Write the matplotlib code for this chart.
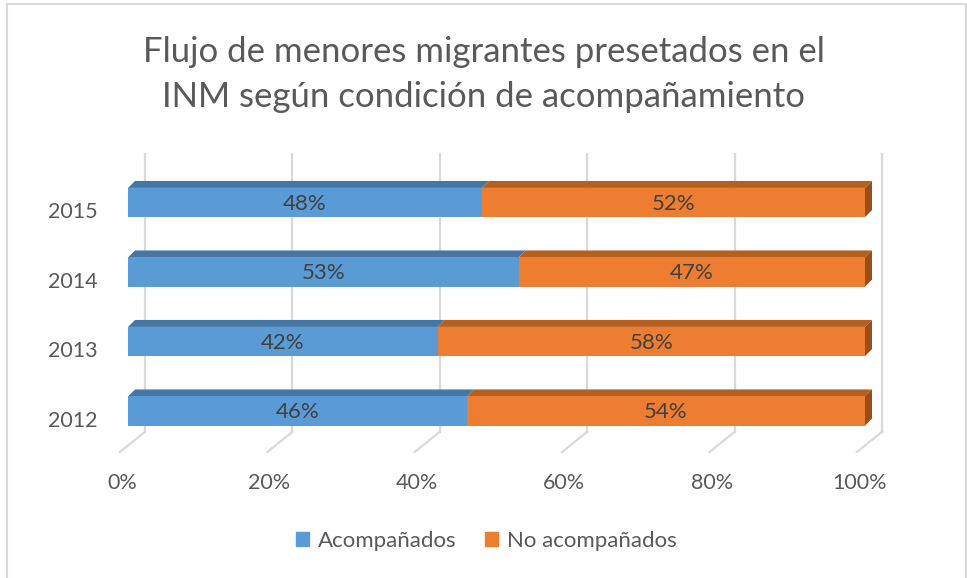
import numpy as np
import matplotlib.pyplot as plt
from matplotlib.patches import Polygon
from matplotlib.lines import Line2D

# ---- data ----
years = ['2012', '2013', '2014', '2015']
acompanados = [46, 42, 53, 48]
no_acompanados = [54, 58, 47, 52]
series_names = ['Acompañados', 'No acompañados']
ticks = [0, 20, 40, 60, 80, 100]

colors = ['#5B9BD5', '#ED7D31']
top_colors = ['#4676A4', '#B5601F']
side_colors = ['#9A4D16', '#9A4D16']
grid_color = '#D9D9D9'
text_color = '#595959'

plt.rcParams['font.family'] = ['Lato', 'DejaVu Sans']

W, H = 967, 578
fig = plt.figure(figsize=(W / 100, H / 100), dpi=100)

# axes placed so that the bar front faces span 0..100
y0_px, per_cat = 411, 69.5
ylo, yhi = -0.6, 3.75
bottom_px = y0_px - ylo * per_cat
top_px = y0_px - yhi * per_cat
ax = fig.add_axes([128 / W, 1 - bottom_px / H, 737 / W, (bottom_px - top_px) / H])
ax.set_xlim(0, 100)
ax.set_ylim(ylo, yhi)
ax.axis('off')

# 3D offsets (data units)
back_dx, floor_back_y, floor_front_dx, floor_front_y, wall_top = 2.3, -0.30, -1.1, -0.59, 3.70
depth_dx, depth_dy = 0.95, 0.10
bar_h = 0.42

# back wall gridlines + floor lines
for t in ticks:
    ax.plot([t + back_dx, t + back_dx], [floor_back_y, wall_top], color=grid_color,
            lw=1.6, clip_on=False, zorder=0)
    ax.plot([t + back_dx, t + floor_front_dx], [floor_back_y, floor_front_y], color=grid_color,
            lw=1.6, clip_on=False, zorder=0)
    ax.text(t + floor_front_dx + 0.3, -1.03, f'{t}%', ha='center', va='center',
            fontsize=15.5, color=text_color)

y = np.arange(len(years))
left = np.zeros(len(years))
for vals, c, tc, sc in zip([acompanados, no_acompanados], colors, top_colors, side_colors):
    vals = np.array(vals, dtype=float)
    ax.barh(y, vals, left=left, height=bar_h, color=c, zorder=3)
    for yi, l, v in zip(y, left, vals):
        top = yi + bar_h / 2
        ax.add_patch(Polygon([[l, top], [l + v, top], [l + v + depth_dx, top + depth_dy],
                              [l + depth_dx, top + depth_dy]], closed=True,
                             facecolor=tc, edgecolor='none', zorder=2, clip_on=False))
        ax.text(l + v / 2, yi - 0.02, f'{v:.0f}%', ha='center', va='center',
                fontsize=16, color='#404040', zorder=5)
    left = left + vals

# right side face of the stack
for yi, l in zip(y, left):
    ax.add_patch(Polygon([[l, yi - bar_h / 2], [l, yi + bar_h / 2],
                          [l + depth_dx, yi + bar_h / 2 + depth_dy],
                          [l + depth_dx, yi - bar_h / 2 + depth_dy]], closed=True,
                         facecolor=side_colors[1], edgecolor='none', zorder=2, clip_on=False))

# category labels
for yi, lab in zip(y, years):
    ax.text(-4.1, yi - 0.14, lab, ha='right', va='center', fontsize=15.5, color=text_color)

fig.text(0.5, 1 - 52 / H, 'Flujo de menores migrantes presetados en el',
         ha='center', va='center', fontsize=25, color=text_color)
fig.text(0.5, 1 - 97 / H, 'INM según condición de acompañamiento',
         ha='center', va='center', fontsize=25, color=text_color)

handles = [plt.Rectangle((0, 0), 1, 1, color=c) for c in colors]
fig.legend(handles, series_names, loc='center', bbox_to_anchor=(0.503, 1 - 541 / H),
           ncol=2, frameon=False, fontsize=16, handlelength=0.6, handleheight=0.6,
           handletextpad=0.4, columnspacing=1.25, labelcolor=text_color)

# chart border
fig.add_artist(Line2D([7 / W, 7 / W, 965.5 / W, 965.5 / W], [0, 1 - 4 / H, 1 - 4 / H, 0],
                      transform=fig.transFigure, color=grid_color, lw=1.5))

fig.savefig('out.png', dpi=100)
